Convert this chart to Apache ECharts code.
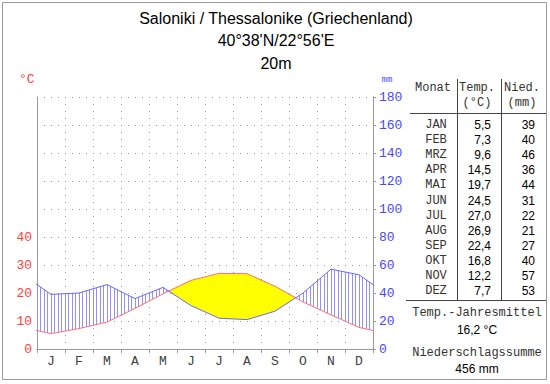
<!DOCTYPE html>
<html>
<head>
<meta charset="utf-8">
<script src="https://cdn.jsdelivr.net/npm/echarts@6/dist/echarts.min.js"></script>
<style>html,body{margin:0;padding:0;background:#fff}#c{width:550px;height:384px}</style>
</head>
<body>
<div id="c"></div>
<script>
// ---- data ----
const months = ['J','F','M','A','M','J','J','A','S','O','N','D'];
const tableMonths = ['JAN','FEB','MRZ','APR','MAI','JUN','JUL','AUG','SEP','OKT','NOV','DEZ'];
const temp = [5.5, 7.3, 9.6, 14.5, 19.7, 24.5, 27.0, 26.9, 22.4, 16.8, 12.2, 7.7];   // °C
const precip = [39, 40, 46, 36, 44, 31, 22, 21, 27, 40, 57, 53];                     // mm
const tempTickLabels = [0, 10, 20, 30, 40];
const precipTickLabels = [0, 20, 40, 60, 80, 100, 120, 140, 160, 180];
const titleLines = ['Saloniki / Thessalonike (Griechenland)', '40°38\'N/22°56\'E', '20m'];
const meanTempText = '16,2 °C';
const sumPrecipText = '456 mm';

const MONO = 'Liberation Mono';
const SANS = 'Liberation Sans';
const fmt = v => v.toFixed(1).replace('.', ',');

// periodic curve: December before January, January after December
const xs = [-0.5].concat(temp.map((_, i) => i + 0.5), [12.5]);
const tsExt = [temp[11]].concat(temp, [temp[0]]);
const psExt = [precip[11]].concat(precip, [precip[0]]);

function renderFills(params, api) {
  if (params.dataIndex !== 0) return null;
  const lerp = (a, b, f) => ({ x: a.x + (b.x - a.x) * f, t: a.t + (b.t - a.t) * f, p: a.p + (b.p - a.p) * f });
  // precipitation in °C-axis units (20 mm = 10 °C)
  const vals = xs.map((x, i) => ({ x: x, t: tsExt[i], p: psExt[i] / 2 }));
  const pts = [];
  for (let i = 0; i < vals.length; i++) {
    const a = vals[i];
    if (a.x >= 0 && a.x <= 12) pts.push(a);
    if (i < vals.length - 1) {
      const b = vals[i + 1];
      [0, 12].forEach(e => { if (a.x < e && b.x > e) pts.push(lerp(a, b, (e - a.x) / (b.x - a.x))); });
    }
  }
  const ref = [];
  for (let i = 0; i < pts.length; i++) {
    ref.push(pts[i]);
    if (i < pts.length - 1) {
      const a = pts[i], b = pts[i + 1];
      const da = a.t - a.p, db = b.t - b.p;
      if (da * db < 0) { const c = lerp(a, b, da / (da - db)); c.p = c.t; ref.push(c); }
    }
  }
  const px = ref.map(q => {
    const ct = api.coord([q.x, q.t]);
    const cp = api.coord([q.x, q.p]);
    return { X: ct[0], YT: ct[1], YP: cp[1], d: q.t - q.p };
  });
  const children = [];
  // arid (yellow) regions
  let run = [];
  const flush = () => {
    if (run.length >= 2 && run.some(r => r.d > 1e-9)) {
      const poly = run.map(r => [r.X, r.YT]).concat(run.slice().reverse().map(r => [r.X, r.YP]));
      children.push({ type: 'polygon', shape: { points: poly }, style: { fill: '#ffff00', stroke: '#ffff00', lineWidth: 0.5 } });
    }
    run = [];
  };
  px.forEach(r => { if (r.d >= -1e-9) run.push(r); else flush(); });
  flush();
  // humid (blue hatched) regions
  const X0 = px[0].X, X1 = px[px.length - 1].X;
  const step = (X1 - X0) / 96;
  for (let k = 0; k <= 96; k++) {
    const x = X0 + k * step;
    let j = 0;
    while (j < px.length - 2 && px[j + 1].X < x) j++;
    const a = px[j], b = px[j + 1];
    const f = b.X === a.X ? 0 : (x - a.X) / (b.X - a.X);
    const yt = a.YT + (b.YT - a.YT) * f;
    const yp = a.YP + (b.YP - a.YP) * f;
    if (yp < yt - 0.5) {
      const xr = Math.floor(x) + 0.5;
      children.push({ type: 'line', shape: { x1: xr, y1: yp, x2: xr, y2: yt }, style: { stroke: '#9090ff', lineWidth: 1 } });
    }
  }
  return { type: 'group', children: children };
}

// ---- frame, titles and table graphics ----
const graphics = [];
graphics.push({ type: 'rect', shape: { x: 2.5, y: 2.5, width: 544, height: 377 }, style: { fill: 'none', stroke: '#9a9a9a', lineWidth: 1 }, silent: true });
titleLines.forEach((t, i) => graphics.push({ type: 'text', x: 276, y: 18 + i * 22.5, style: { text: t, font: '16px ' + SANS, fill: '#000', textAlign: 'center', textVerticalAlign: 'middle' } }));
graphics.push({ type: 'text', x: 19, y: 79, style: { text: '°C', font: '13px ' + MONO, fill: '#ff4040', textAlign: 'left', textVerticalAlign: 'middle' } });
graphics.push({ type: 'text', x: 387, y: 80, style: { text: 'mm', font: '9px ' + MONO, fill: '#4848ff', textAlign: 'center', textVerticalAlign: 'middle' } });

const hdrY1 = 88, hdrY2 = 103, row0 = 125, rowH = 15.1;
const colMon = 433, colT = 477, colP = 522, rT = 491, rP = 535;
const monoText = (t, x, y, align) => ({ type: 'text', x: x, y: y, style: { text: t, font: '12px ' + MONO, fill: '#333', textAlign: align || 'center', textVerticalAlign: 'middle' } });
const sansText = (t, x, y, align) => ({ type: 'text', x: x, y: y, style: { text: t, font: '12px ' + SANS, fill: '#000', textAlign: align || 'center', textVerticalAlign: 'middle' } });
graphics.push(monoText('Monat', colMon, hdrY1));
graphics.push(monoText('Temp.', colT, hdrY1));
graphics.push(monoText('(°C)', colT, hdrY2));
graphics.push(monoText('Nied.', colP, hdrY1));
graphics.push(monoText('(mm)', colP, hdrY2));
graphics.push({ type: 'line', shape: { x1: 410, y1: 113.5, x2: 546, y2: 113.5 }, style: { stroke: '#444', lineWidth: 1 } });
graphics.push({ type: 'line', shape: { x1: 457.5, y1: 79, x2: 457.5, y2: 300 }, style: { stroke: '#444', lineWidth: 1 } });
graphics.push({ type: 'line', shape: { x1: 501.5, y1: 79, x2: 501.5, y2: 300 }, style: { stroke: '#444', lineWidth: 1 } });
graphics.push({ type: 'line', shape: { x1: 406, y1: 300.5, x2: 546, y2: 300.5 }, style: { stroke: '#444', lineWidth: 1 } });
tableMonths.forEach((m, i) => {
  const y = row0 + i * rowH;
  graphics.push(monoText(m, colMon + 3, y));
  graphics.push(sansText(fmt(temp[i]), rT, y, 'right'));
  graphics.push(sansText(String(precip[i]), rP, y, 'right'));
});
graphics.push(monoText('Temp.-Jahresmittel', 477, 313));
graphics.push(sansText(meanTempText, 477, 330));
graphics.push(monoText('Niederschlagssumme', 477, 353));
graphics.push(sansText(sumPrecipText, 477, 369));

const dotted = { color: '#999', width: 1, type: [1, 6] };
const chart = echarts.init(document.getElementById('c'), null, { renderer: 'svg' });
chart.setOption({
  animation: false,
  backgroundColor: '#fff',
  grid: { left: 37, top: 97, width: 336, height: 252, containLabel: false },
  xAxis: [
    {
      type: 'category', data: months, boundaryGap: true, position: 'bottom',
      axisLine: { show: true, lineStyle: { color: '#999', width: 1 } },
      axisTick: { show: true, length: 4, alignWithLabel: false, lineStyle: { color: '#999' } },
      axisLabel: { color: '#404040', fontFamily: MONO, fontSize: 13, margin: 6 },
      splitLine: { show: true, lineStyle: dotted }
    },
    { type: 'value', min: 0, max: 12, show: false }
  ],
  yAxis: [
    {
      type: 'value', min: 0, max: 90, interval: 10, position: 'left',
      axisLine: { show: true, lineStyle: { color: '#999', width: 1 } },
      axisTick: { show: false },
      axisLabel: { color: '#ff4040', fontFamily: MONO, fontSize: 13, margin: 5,
        formatter: v => tempTickLabels.indexOf(v) >= 0 ? String(v) : '' },
      splitLine: { show: true, lineStyle: dotted }
    },
    {
      type: 'value', min: 0, max: 180, interval: 20, position: 'right',
      axisLine: { show: true, lineStyle: { color: '#999', width: 1 } },
      axisTick: { show: true, length: 3, lineStyle: { color: '#999' } },
      axisLabel: { color: '#4848ff', fontFamily: MONO, fontSize: 13, margin: 6,
        formatter: v => precipTickLabels.indexOf(v) >= 0 ? String(v) : '' },
      splitLine: { show: false }
    }
  ],
  graphic: graphics,
  series: [
    { type: 'custom', xAxisIndex: 1, yAxisIndex: 0, data: [[0, 0]], renderItem: renderFills, z: 1, silent: true },
    { type: 'line', xAxisIndex: 1, yAxisIndex: 0, data: xs.map((x, i) => [x, tsExt[i]]), showSymbol: false, symbol: 'none',
      lineStyle: { color: '#ff7070', width: 1 }, z: 3, clip: true, silent: true },
    { type: 'line', xAxisIndex: 1, yAxisIndex: 1, data: xs.map((x, i) => [x, psExt[i]]), showSymbol: false, symbol: 'none',
      lineStyle: { color: '#6a6aff', width: 1 }, z: 3, clip: true, silent: true }
  ]
});
</script>
</body>
</html>
